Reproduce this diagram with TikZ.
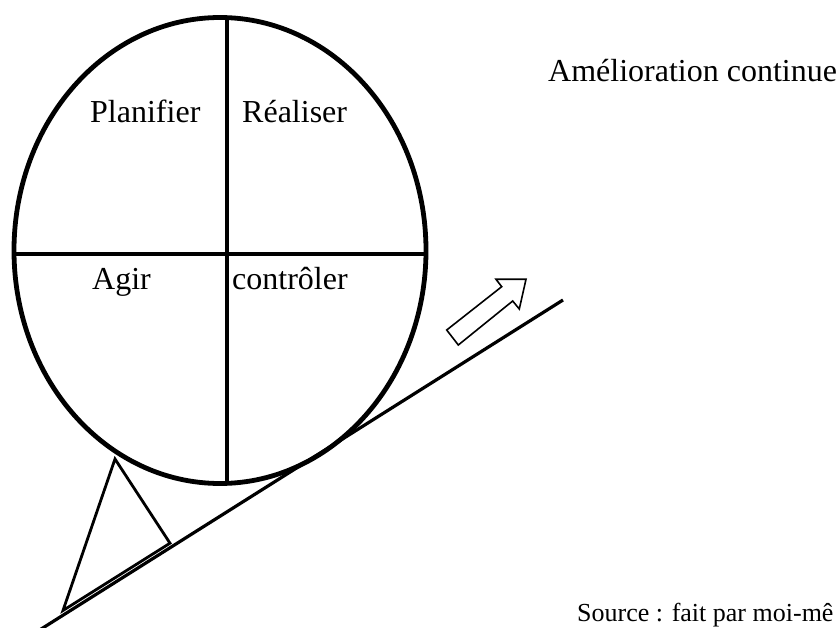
\documentclass[tikz,border=0pt]{standalone}
\usepackage{fontspec}
\setmainfont{Liberation Serif}
\begin{document}
\begin{tikzpicture}[x=1pt,y=-1pt,
  label/.style={anchor=base west, inner sep=0pt, font=\fontsize{32}{38}\selectfont},
  small/.style={anchor=base west, inner sep=0pt, font=\fontsize{26}{31}\selectfont},
  wheel/.style={line width=4.8pt},
  divider/.style={line width=3.2pt},
  slope/.style={line width=3.2pt},
  chock/.style={line width=2.8pt, line join=miter},
  hollow/.style={line width=1.6pt, fill=white, line join=miter}]
  \useasboundingbox (0,0) rectangle (839,628);

  % the PDCA wheel and its quadrants
  \coordinate (c) at (220,250.5);
  \draw[wheel] (c) ellipse [x radius=206, y radius=233];
  \coordinate (vtop) at (227,18);
  \coordinate (vbot) at (227,483);
  \coordinate (hl) at (14,254);
  \coordinate (hr) at (426,254);
  \draw[divider] (vtop) -- (vbot);
  \draw[divider] (hl) -- (hr);

  % inclined plane
  \coordinate (s0) at (38,631);
  \coordinate (s1) at (563,300);
  \draw[slope] (s0) -- (s1);

  % wedge holding the wheel, its base just above the plane
  \coordinate (wa) at (115,459);
  \coordinate (wb) at (63,610.5);
  \coordinate (wc) at (170,543.2);
  \draw[chock] (wa) -- (wb) -- (wc) -- cycle;

  % hollow block arrow pointing up the slope
  \draw[hollow] (446.7,330) -- (501.7,286.7) -- (496,279.3) -- (526,279.3)
    -- (519.3,309) -- (512.7,301) -- (458.3,345) -- cycle;

  % texts
  \node[label] (plan) at (90,123) {Planifier};
  \node[label] (real) at (242,123) {Réaliser};
  \node[label] (agir) at (92,290) {Agir};
  \node[label] (ctrl) at (232,290) {contrôler};
  \node[label] (amel) at (548,82) {Amélioration continue};
  \node[small] (src) at (577,621) {Source : fait par moi-mê};
\end{tikzpicture}
\end{document}
